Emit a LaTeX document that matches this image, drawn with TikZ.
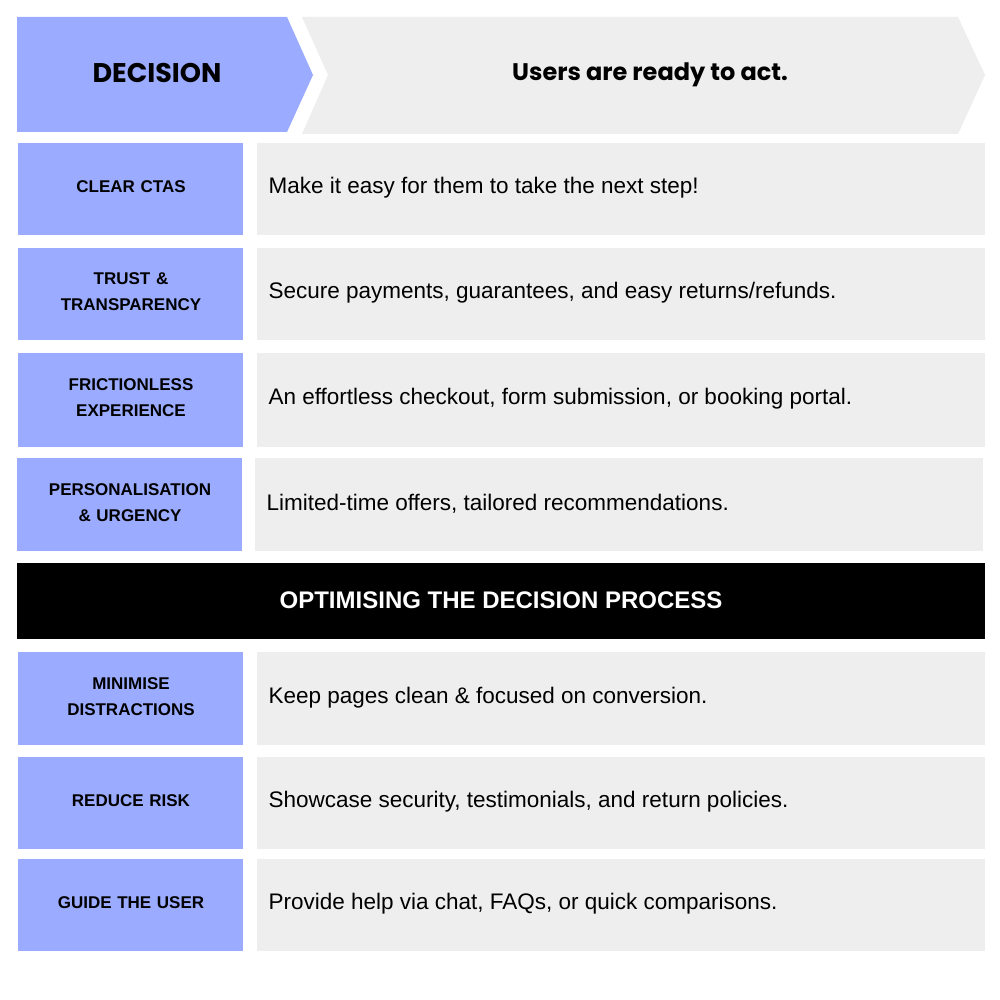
\documentclass[tikz,border=0pt]{standalone}
\usepackage{fontspec}
\setmainfont{Liberation Sans}
\newfontfamily\hfont{Poppins}
\definecolor{bl}{RGB}{155,171,255}
\definecolor{gr}{RGB}{238,238,238}
\begin{document}
\begin{tikzpicture}[x=1pt,y=-1pt,
 lab/.style={font=\bfseries\fontsize{17}{26}\selectfont,align=center,text width=224pt},
 body/.style={font=\fontsize{22.5}{26}\selectfont,anchor=west}]
\useasboundingbox (0,0) rectangle (1000,1000);
\fill[white] (0,0) rectangle (1000,1000);
% header
\fill[bl] (17,17) -- (287,17) -- (313,75) -- (287,132) -- (17,132) -- cycle;
\fill[gr] (302,17) -- (958,17) -- (985,75) -- (958,134) -- (302,134) -- (328,75) -- cycle;
\node[font=\hfont\bfseries\fontsize{27}{30}\selectfont] (dec) at (157,73) {DECISION};
\node[font=\hfont\fontsize{24}{28}\selectfont\bfseries] (ready) at (650,75) {Users are ready to act.};
% rows
\foreach \t/\b/\xl/\xr/\name/\txt [count=\i] in {
 143/235/18/257/CLEAR CTAS/Make it easy for them to take the next step!,
 248/340/18/257/{TRUST \&\\TRANSPARENCY}/{Secure payments, guarantees, and easy returns/refunds.},
 353/447/18/257/{FRICTIONLESS\\EXPERIENCE}/{An effortless checkout, form submission, or booking portal.},
 458/551/17/255/{PERSONALISATION\\\& URGENCY}/{Limited-time offers, tailored recommendations.},
 652/745/18/257/{MINIMISE\\DISTRACTIONS}/{Keep pages clean \& focused on conversion.},
 757/849/18/257/REDUCE RISK/{Showcase security, testimonials, and return policies.},
 859/951/18/257/GUIDE THE USER/{Provide help via chat, FAQs, or quick comparisons.}}{
 \fill[bl] (\xl,\t) rectangle (\xl+225,\b);
 \fill[gr] (\xr,\t) rectangle (\xr+728,\b);
 \node[lab] (l\i) at (\xl+113,{(\t+\b)/2-2}) {\name};
 \node[body] (b\i) at (\xr+8,{(\t+\b)/2-1}) {\txt};
}
\fill[black] (17,563) rectangle (985,639);
\node[font=\bfseries\fontsize{24}{28}\selectfont,text=white] (opt) at (501,600) {OPTIMISING THE DECISION PROCESS};
\end{tikzpicture}
\end{document}
